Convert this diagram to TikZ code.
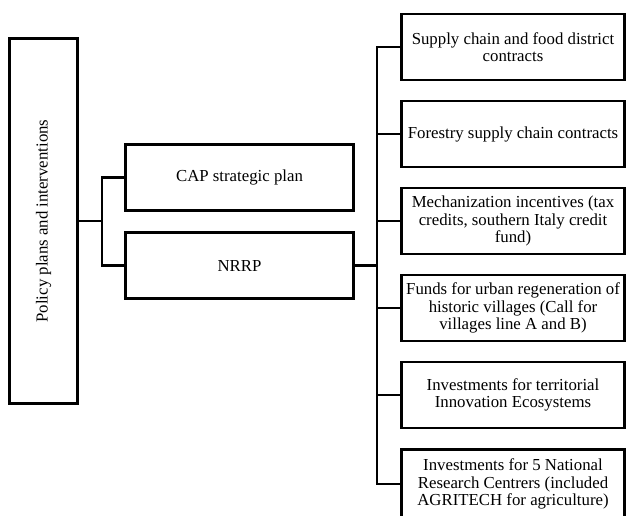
\documentclass[tikz,border=0pt]{standalone}
\usepackage{fontspec}
\setmainfont{Liberation Serif}
\usetikzlibrary{positioning}

\begin{document}
\begin{tikzpicture}[x=0.75pt,y=-0.75pt]
	\useasboundingbox (0,0) rectangle (628,515);
	\begin{scope}[every node/.style={draw, line width=2.2pt, align=center, inner sep=0pt,
	              font=\fontsize{12.6pt}{13.2pt}\selectfont}]
		\node[minimum width=274pt, minimum height=51pt, rotate=90] (policy) at (43.5,221) {Policy plans and interventions};
		\node[minimum width=171pt, minimum height=49.5pt] (cap) at (239.5,177.5) {CAP strategic plan};
		\node[minimum width=171pt, minimum height=49.5pt] (nrrp) at (239.5,265.5) {NRRP};
	\end{scope}

	\begin{scope}[every node/.style={draw, line width=2.2pt, align=center, inner sep=0pt,
	              minimum width=167pt, minimum height=49.5pt,
	              font=\fontsize{12.6pt}{13.2pt}\selectfont}]
		\node (supply) at (513,47) {Supply chain and food district\\contracts};
		\node (forest) at (513,134) {Forestry supply chain contracts};
		\node (mech) at (513,221) {Mechanization incentives (tax\\credits, southern Italy credit\\fund)};
		\node (funds) at (513,308) {Funds for urban regeneration of\\historic villages (Call for\\villages line A and B)};
		\node (eco) at (513,395) {Investments for territorial\\Innovation Ecosystems};
		\node[minimum height=52pt] (centres) at (513,484) {Investments for 5 National\\Research Centrers (included\\AGRITECH for agriculture)};
	\end{scope}

	\coordinate (j1) at (102,221);
	\coordinate (j2) at (377,265.5);

	\begin{scope}[line width=2.2pt]
		\draw (policy.south) -- (j1);
		\draw (j1) |- (cap.west);
		\draw (j1) |- (nrrp.west);
		\draw (nrrp.east) -- (j2);
		\foreach \n in {supply, forest, mech, funds, eco, centres}
			\draw (j2) |- (\n.west);
	\end{scope}
\end{tikzpicture}
\end{document}
